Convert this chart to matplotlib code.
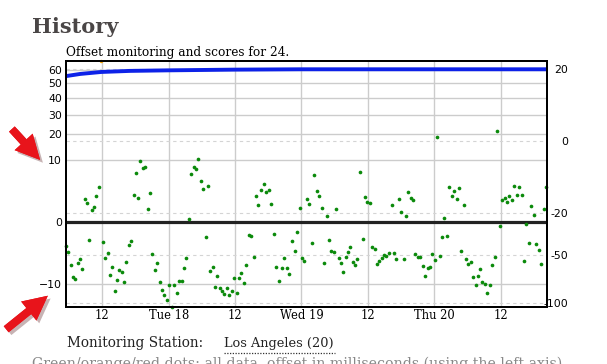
import numpy as np
import matplotlib.pyplot as plt
import matplotlib.patheffects as pe
from matplotlib.patches import FancyArrowPatch
from matplotlib.lines import Line2D

# --- datos (horas desde lunes 17 00:00) ---
hours = [5.44, 5.86, 6.29, 6.70, 7.12, 7.61, 8.02, 8.39, 8.82, 9.23,
         9.65, 10.08, 10.50, 10.92, 11.35, 12.18, 12.54, 13.03, 13.39, 13.81,
         14.24, 14.66, 15.07, 15.51, 15.92, 16.34, 16.77, 17.19, 17.67, 18.09,
         18.51, 18.87, 19.36, 19.77, 20.20, 20.62, 21.04, 21.47, 21.89, 22.34,
         22.79, 23.20, 23.64, 24.11, 24.54, 25.01, 25.45, 25.92, 26.35, 26.77,
         27.18, 27.62, 28.09, 28.52, 28.99, 29.35, 29.84, 30.25, 30.69, 31.10,
         31.52, 31.95, 32.37, 32.78, 33.22, 33.63, 34.05, 34.48, 34.95, 35.39,
         35.80, 36.29, 36.71, 37.12, 37.61, 38.03, 38.46, 38.93, 39.36, 39.81,
         40.19, 40.74, 41.17, 41.64, 42.13, 42.54, 42.98, 43.45, 43.94, 44.42,
         44.84, 45.33, 45.80, 46.23, 46.77, 47.19, 47.68, 48.09, 48.51, 48.94,
         49.41, 49.90, 50.32, 50.75, 51.22, 51.65, 52.12, 52.56, 52.97, 53.39,
         53.88, 54.24, 54.72, 55.14, 55.56, 55.99, 56.41, 56.82, 57.25, 57.67,
         58.09, 58.57, 59.06, 59.48, 59.89, 60.33, 60.80, 61.23, 61.65, 62.06,
         62.50, 62.91, 63.33, 63.82, 64.30, 64.72, 65.13, 65.57, 66.04, 66.47,
         66.89, 67.30, 67.74, 68.15, 68.57, 69.06, 69.47, 69.91, 70.32, 70.81,
         71.23, 71.64, 72.13, 72.55, 72.98, 73.39, 73.81, 74.30, 74.71, 75.15,
         75.53, 76.05, 76.47, 76.88, 77.32, 77.73, 78.15, 78.58, 79.00, 79.49,
         79.90, 80.32, 80.68, 81.17, 81.58, 82.02, 82.43, 82.92, 83.33, 83.82,
         84.24, 84.73, 85.14, 85.56, 86.05, 86.46, 86.89, 87.36, 87.80, 88.21,
         88.63, 89.12, 89.53, 89.97, 90.44, 90.87, 91.34, 91.77, 92.24]
offsets = [-1.50, -2.25, -4.81, -7.69, -8.44, -4.37, -3.51, -5.75, 1.36, 0.98,
           -0.85, 0.37, 0.62, 1.78, 3.26, -1.05, -3.38, -2.50, -7.30, -5.20,
           -12.26, -8.56, -5.99, -6.42, -9.35, -4.10, -1.38, -0.89, 1.87, 6.27,
           1.55, 9.61, 7.52, 7.98, 0.43, 2.21, -2.62, -5.84, -4.25, -9.26,
           -11.80, -13.84, -15.56, -10.31, -18.5, -10.12, -12.98, -9.05, -9.05, -5.43,
           -3.26, 0.02, 5.94, 7.98, 7.33, 10.44, 4.33, 2.85, -0.59, 3.34,
           -6.24, -5.13, -10.98, -7.41, -11.32, -12.15, -13.46, -11.32, -13.61, -12.26,
           -8.15, -13.09, -7.98, -6.76, -9.48, -4.74, -0.44, -0.51, -3.08, 1.74,
           0.74, 2.69, 3.84, 2.36, 2.74, 0.86, -0.36, -5.27, -8.86, -5.50,
           -3.38, -5.50, -7.03, -0.94, -2.10, -0.26, 0.54, -3.38, -3.96, 1.39,
           0.83, -1.12, 5.70, 2.47, 1.82, 0.54, -4.37, 0.11, -0.85, -2.19,
           -2.35, 0.47, -3.32, -4.37, -6.35, -3.19, -2.25, -1.63, -4.04, -4.81,
           -3.56, 6.61, -0.73, 1.68, 1.03, 0.98, -1.63, -1.90, -4.46, -3.84,
           -3.26, -2.84, -2.96, -2.50, 0.77, -2.41, -3.56, 1.39, 0.27, -3.56,
           0.09, 2.32, 1.52, 1.24, -2.67, -3.08, -3.08, -5.04, -7.58, -5.36,
           -5.20, -2.67, -3.76, 18.93, -2.91, -0.59, 0.05, -0.47, 3.21, 1.74,
           2.52, 1.43, 3.03, -2.10, 0.74, -3.51, -4.59, -4.04, -7.86, -10.21,
           -7.41, -5.75, -9.35, -9.89, -12.87, -10.31, -4.81, -3.19, 21.40, -0.04,
           1.31, 1.55, 1.09, 1.82, 1.31, 3.45, 1.87, 3.26, 1.92, -3.96,
           -0.01, -1.12, 0.71, 0.12, -1.23, -2.04, -4.46, 0.43, 3.26]

# puntaje (eje derecho)
score_hours = [5.44, 8.0, 11.8, 17.0, 23.6, 35.7, 47.7, 92.3]
scores = [18.1, 18.7, 19.25, 19.55, 19.7, 19.9, 20.0, 20.0]

# punto naranjo fuera de rango
orange_hours = [11.8]
orange_offsets = [67.7]

xtick_pos = [12, 24, 36, 48, 60, 72, 84]
xtick_labels = ['12', 'Tue 18', '12', 'Wed 19', '12', 'Thu 20', '12']
left_ticks = [60, 50, 40, 30, 20, 10, 0, -10]
left_labels = ['60', '50', '40', '30', '20', '10', '0', '\u221210']
right_ticks = [20, 0, -20, -50, -100]
right_labels = ['20', '0', '-20', '-50', '-100']


# escala raiz con signo para el eje izquierdo
def fwd(v):
    v = np.asarray(v, float)
    return np.sign(v) * np.sqrt(np.abs(v))


def inv(u):
    u = np.asarray(u, float)
    return np.sign(u) * u**2


# relacion puntaje <-> posicion (en unidades de raiz)
score_knots = [-200, -100, -50, -20, 0, 20, 40]
u_knots = [-9.04, -4.127, -1.669, 0.453, 4.132, 7.781, 11.43]


def score_to_u(s):
    return np.interp(s, score_knots, u_knots)


def u_to_score(u):
    return np.interp(u, u_knots, score_knots)


def score_to_offset(s):
    return inv(score_to_u(s))


W, H = 607, 364
fig = plt.figure(figsize=(W / 100, H / 100), dpi=100)


def px(x, y):
    return x / W, 1 - y / H


ax = fig.add_axes([66 / W, 1 - 306.7 / H, (546.7 - 66) / W, (306.7 - 60.5) / H])
ax.set_yscale('function', functions=(fwd, inv))
ax.set_xlim(5.44, 92.32)
ax.set_ylim(-18.5, 67.7)

# rejilla
for xp in xtick_pos:
    ax.axvline(xp, color='#cccccc', lw=1, zorder=0)
for yp in left_ticks:
    if yp != 0:
        ax.axhline(yp, color='#cccccc', lw=1, zorder=0)
for s in right_ticks:
    ax.axhline(score_to_offset(s), color='#d4d4d4', lw=0.8, ls=(0, (3, 3)), zorder=0)
ax.axhline(0, color='#222222', lw=2.3, zorder=1)

ax.scatter(hours, offsets, s=7, color='#0b8a0b', lw=0, zorder=3, clip_on=False)
ax.plot(score_hours, score_to_offset(scores), color='#0d22e8', lw=2.8,
        solid_capstyle='round', zorder=2)
ax.scatter(orange_hours, orange_offsets, s=6, color='#f5a300', lw=0, zorder=4, clip_on=False)

ax.set_xticks(xtick_pos, labels=xtick_labels)
ax.set_yticks(left_ticks, labels=left_labels)
ax.tick_params(axis='x', length=0, pad=1.5, labelsize=8.3)
ax.tick_params(axis='y', length=0, pad=3, labelsize=7.8)
for lbl in ax.get_xticklabels():
    lbl.set_family('DejaVu Serif')
for sp in ax.spines.values():
    sp.set_linewidth(1.4)
    sp.set_color('black')

# eje derecho de puntajes
ax2 = ax.twinx()
ax2.set_yscale('function', functions=(score_to_u, u_to_score))
ax2.set_ylim(u_to_score(fwd(ax.get_ylim())))
ax2.set_yticks(right_ticks, labels=right_labels)
ax2.tick_params(axis='y', length=0, pad=15.5, labelsize=7.8)
for lbl in ax2.get_yticklabels():
    lbl.set_horizontalalignment('right')
for sp in ax2.spines.values():
    sp.set_linewidth(1.4)

# textos de la pagina
fig.text(*px(32, 33), 'History', fontsize=15, fontweight='bold', family='DejaVu Serif',
         color='#4a4646', va='baseline')
fig.text(*px(66, 56), 'Offset monitoring and scores for 24.', fontsize=8.7, family='DejaVu Serif',
         color='black', va='baseline')
fig.text(*px(67, 347), 'Monitoring Station:', fontsize=9.8, family='DejaVu Serif',
         color='#222222', va='baseline')
fig.text(*px(224, 347), 'Los Angeles (20)', fontsize=9.3, family='DejaVu Serif',
         color='#222222', va='baseline')
fig.add_artist(Line2D([224 / W, 335 / W], [1 - 352.5 / H] * 2, color='#333333', lw=0.9,
                      ls=(0, (1, 1.2))))
# texto inferior, cortado por el borde como en la pagina original
fig.text(*px(32, 368), 'Green/orange/red dots: all data, offset in milliseconds (using the left axis)',
         fontsize=10.2, family='DejaVu Serif', color='#888888', va='baseline')

# flechas rojas
for a, b in [((10, 127), (42, 162)), ((4, 331), (50, 294))]:
    arr = FancyArrowPatch(px(*a), px(*b), transform=fig.transFigure,
                          arrowstyle='simple,head_width=1.1,head_length=1.1,tail_width=0.35',
                          mutation_scale=16, color='#e8141b', lw=0,
                          path_effects=[pe.withSimplePatchShadow(offset=(2, -2), alpha=0.3),
                                        pe.Normal()])
    fig.add_artist(arr)

fig.savefig('out.png', dpi=100)
